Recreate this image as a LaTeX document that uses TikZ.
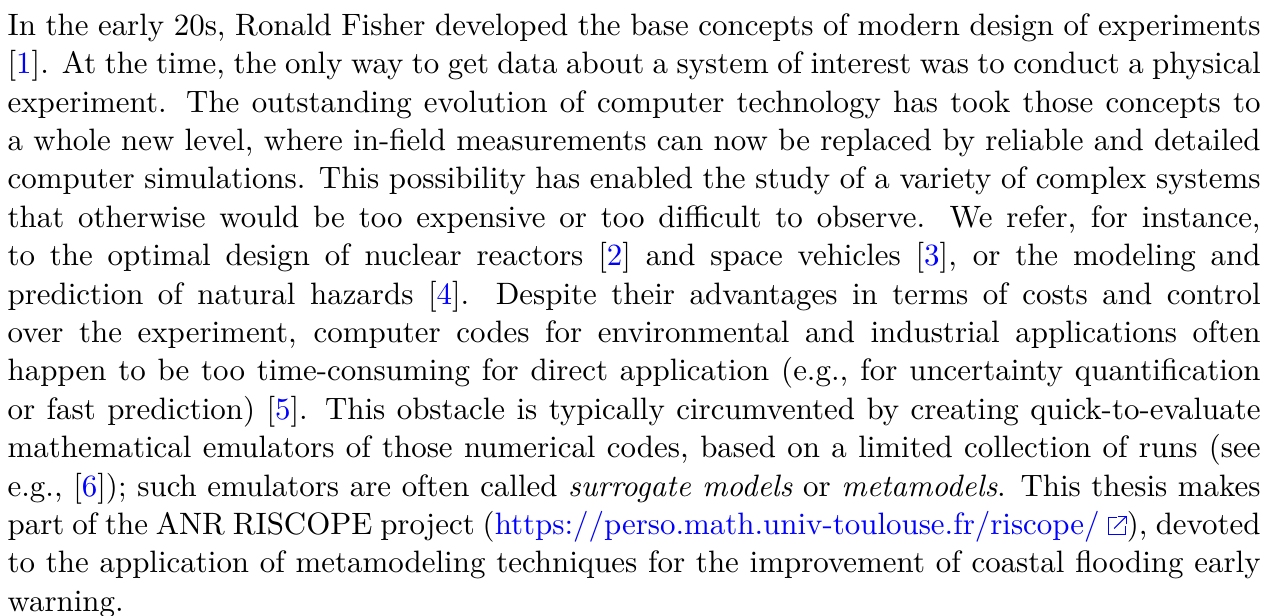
\documentclass[tikz,border=0pt]{standalone}
\usepackage{tikz}

% numbered reference, number in blue
\newcommand{\refnum}[1]{[\textcolor{blue}{#1}]}
% little external-link box after the address
\newcommand{\extlink}{\tikz[baseline=0pt,blue,line width=0.4pt,x=0.56em,y=0.56em]{
	\draw (0.5,1)--(0,1)--(0,0)--(1,0)--(1,0.5);
	\draw (0.35,0.35)--(1.05,1.05);
	\draw (0.6,1.05)--(1.05,1.05)--(1.05,0.6);}}

\tikzset{
	parbox/.style={anchor=north west, inner sep=0pt, text width=443.7pt,
		align=justify, font=\fontsize{10.95pt}{13.6pt}\selectfont}}

\begin{document}
\begin{tikzpicture}
	\useasboundingbox (0,0) rectangle (447.6pt,-218.1pt);
	\node[parbox](para) at (2.5pt,-4.55pt){\noindent
In the early 20s, Ronald Fisher developed the base concepts of modern design of experiments\linebreak
\refnum{1}. At the time, the only way to get data about a system of interest was to conduct a physical\linebreak
experiment. The outstanding evolution of computer technology has took those concepts to\linebreak
a whole new level, where in-field measurements can now be replaced by reliable and detailed\linebreak
computer simulations. This possibility has enabled the study of a variety of complex systems\linebreak
that otherwise would be too expensive or too difficult to observe. We refer, for instance,\linebreak
to the optimal design of nuclear reactors \refnum{2} and space vehicles \refnum{3}, or the modeling and\linebreak
prediction of natural hazards \refnum{4}. Despite their advantages in terms of costs and control\linebreak
over the experiment, computer codes for environmental and industrial applications often\linebreak
happen to be too time-consuming for direct application (e.g., for uncertainty quantification\linebreak
or fast prediction) \refnum{5}. This obstacle is typically circumvented by creating quick-to-evaluate\linebreak
mathematical emulators of those numerical codes, based on a limited collection of runs (see\linebreak
e.g., \refnum{6}); such emulators are often called \emph{surrogate models} or \emph{metamodels}. This thesis makes\linebreak
part of the ANR RISCOPE project (\textcolor{blue}{https://perso.math.univ-toulouse.fr/riscope/ \extlink}), devoted\linebreak
to the application of metamodeling techniques for the improvement of coastal flooding early\linebreak
warning.};
\end{tikzpicture}
\end{document}
